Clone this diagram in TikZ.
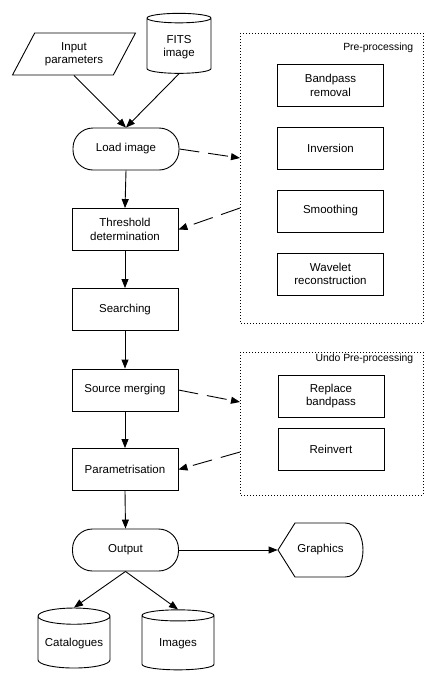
\documentclass[tikz,border=0pt]{standalone}
\usepackage{fontspec}
\setmainfont{Liberation Sans}
\usetikzlibrary{shapes.geometric,arrows.meta}

\begin{document}
\begin{tikzpicture}[x=1pt,y=-1pt,line width=0.9pt,
  every node/.style={font=\fontsize{11.5}{13.5}\selectfont,align=center},
  proc/.style={draw,rectangle,minimum width=106pt,minimum height=42pt},
  term/.style={draw,rectangle,rounded corners=20pt,minimum width=106pt,minimum height=42pt},
  store/.style={draw,cylinder,shape border rotate=90,aspect=0.25},
  flow/.style={-{Triangle[length=9pt,width=7pt]}},
  hint/.style={flow,dash pattern=on 20pt off 9pt},
  group/.style={dash pattern=on 1pt off 2pt}]
\useasboundingbox (0,0) rectangle (436,686);

% main chain
\node[draw,trapezium,trapezium left angle=59,trapezium right angle=121,
  trapezium stretches=true,minimum width=123pt,minimum height=42pt] (in) at (74,54) {Input\\parameters};
\node[store,minimum width=64pt,minimum height=60pt] (fits) at (179,47) {FITS\\image};
\node[term] (load) at (126,149) {Load image};
\node[proc] (thresh) at (125,229.5) {Threshold\\determination};
\node[proc] (search) at (125,309.5) {Searching};
\node[proc] (merge) at (125,390) {Source merging};
\node[proc] (param) at (125,469.5) {Parametrisation};
\node[term] (output) at (125.5,550) {Output};
\node[store,minimum width=72pt,minimum height=60pt] (cat) at (74,644) {Catalogues};
\node[store,minimum width=72pt,minimum height=60pt] (img) at (178,644) {Images};

% graphics display
\draw (278,550) -- (295,523) -- (345,523) .. controls (357,523) and (363,537) .. (363,550)
  .. controls (363,563) and (357,577) .. (345,577) -- (295,577) -- cycle;
\node[minimum width=85pt,minimum height=54pt] (graphics) at (320.5,550) {Graphics};

% pre-processing
\draw[group] (240,33) rectangle (423,323);
\node[anchor=east,font=\fontsize{10.4}{12}\selectfont] (prelabel) at (417,48) {Pre-processing};
\node[proc] (band) at (330.5,85.5) {Bandpass\\removal};
\node[proc] (inv) at (330.5,148) {Inversion};
\node[proc] (smooth) at (330.5,211) {Smoothing};
\node[proc] (wave) at (330.5,274) {Wavelet\\reconstruction};

% undo pre-processing
\draw[group] (240,352) rectangle (423,495);
\node[anchor=east,font=\fontsize{10.4}{12}\selectfont] (undolabel) at (417,359) {Undo Pre-processing};
\node[proc] (replace) at (331,396) {Replace\\bandpass};
\node[proc] (reinv) at (331,449.5) {Reinvert};

\coordinate (preIn) at (240,158);
\coordinate (preOut) at (240,208);
\coordinate (undoIn) at (240,402);
\coordinate (undoOut) at (240,452);

\draw[flow] (in.south) -- (load.north);
\draw[flow] (fits.south) -- (load.north);
\draw[flow] (load.south) -- (thresh.north);
\draw[flow] (thresh.south) -- (search.north);
\draw[flow] (search.south) -- (merge.north);
\draw[flow] (merge.south) -- (param.north);
\draw[flow] (param.south) -- (output.north);
\draw[flow] (output.east) -- (graphics.west);
\draw[flow] (output.south) -- (cat.north);
\draw[flow] (output.south) -- (img.north);

\draw[hint] (load.east) -- (preIn);
\draw[hint] (preOut) -- (thresh.east);
\draw[hint] (merge.east) -- (undoIn);
\draw[hint] (undoOut) -- (param.east);
\end{tikzpicture}
\end{document}
